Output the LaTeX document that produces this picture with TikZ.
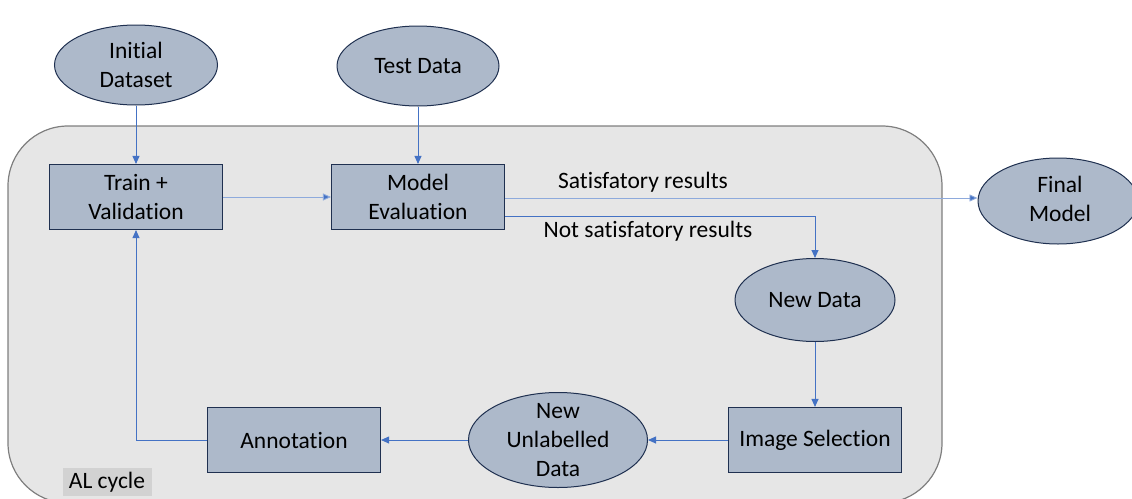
\documentclass[tikz,border=0pt]{standalone}
\usepackage{fontspec}
\setmainfont[Ligatures={NoCommon}]{Carlito}
\usetikzlibrary{shapes.geometric,arrows.meta}
\definecolor{nodefill}{HTML}{ADB9CA}
\definecolor{nodeline}{HTML}{1F3050}
\definecolor{arrowc}{HTML}{4472C4}
\definecolor{arrowl}{HTML}{8EAADC}
\definecolor{bgfill}{HTML}{E6E6E6}
\definecolor{bgline}{HTML}{7F7F7F}
\definecolor{lblfill}{HTML}{D2D2D2}
\tikzset{
  x=1pt,y=-1pt,
  txt/.style={font=\fontsize{23.5}{29}\selectfont, align=center, text=black, inner sep=0},
  rectbox/.style={draw=nodeline, fill=nodefill, line width=1.1pt, minimum width=173pt, minimum height=65pt, inner sep=0, txt},
  ell/.style={ellipse, draw=nodeline, fill=nodefill, line width=1pt, inner sep=0},
  conn/.style={draw=arrowc, line width=0.9pt, -{Triangle[length=8pt,width=7pt]}},
  connl/.style={draw=arrowl, line width=0.9pt, -{Triangle[length=8pt,width=7pt,fill=arrowc]}},
}
\begin{document}
\begin{tikzpicture}
\useasboundingbox (0,0) rectangle (1132,498);
\begin{scope}
\clip (0,0) rectangle (1132,498);
% background AL cycle region
\draw[fill=bgfill, draw=bgline, line width=1.2pt, rounded corners=60pt] (8,126) rectangle (942,503);
\node[fill=lblfill, minimum width=89pt, minimum height=28pt, inner sep=0] (allbl) at (107,482) {};
\node[txt] (altxt) at (107,482) {AL cycle};

% ellipses
\node[ell, minimum width=163pt, minimum height=80pt] (init) at (136,65) {};
\node[txt] (initt) at (136,65) {Initial\\Dataset};
\node[ell, minimum width=162pt, minimum height=80pt] (test) at (418,66) {};
\node[txt] (testt) at (418,66) {Test Data};
\node[ell, minimum width=160pt, minimum height=86pt] (final) at (1058,201) {};
\node[txt] (finalt) at (1060,199) {Final\\Model};
\node[ell, minimum width=160pt, minimum height=83pt] (newd) at (815,300) {};
\node[txt] (newdt) at (815,300) {New Data};
\node[ell, minimum width=179pt, minimum height=95pt] (nud) at (558,440) {};
\node[txt] (nudt) at (558,440) {New\\Unlabelled\\Data};

% rectangles
\node[rectbox] (train) at (136,197) {Train +\\Validation};
\node[rectbox] (eval) at (418,197) {Model\\Evaluation};
\node[rectbox] (imgsel) at (815,440) {Image Selection};
\node[rectbox] (annot) at (294,440) {Annotation};

% connectors
\draw[conn] (init.south) -- (train.north);
\draw[conn] (test.south) -- (eval.north);
\draw[connl] (train.east) -- (eval.west);
\draw[connl] (eval.east |- 0,198) -- (final.west |- 0,198);
\draw[conn] (eval.east |- 0,216) -| (newd.north);
\draw[conn] (newd.south) -- (imgsel.north);
\draw[conn] (imgsel.west) -- (nud.east);
\draw[conn] (nud.west) -- (annot.east);
\draw[conn] (annot.west) -| (train.south);

% labels
\node[txt] (sat) at (643,182) {Satisfatory results};
\node[txt] (nsat) at (648,231) {Not satisfatory results};
\end{scope}
\end{tikzpicture}
\end{document}
